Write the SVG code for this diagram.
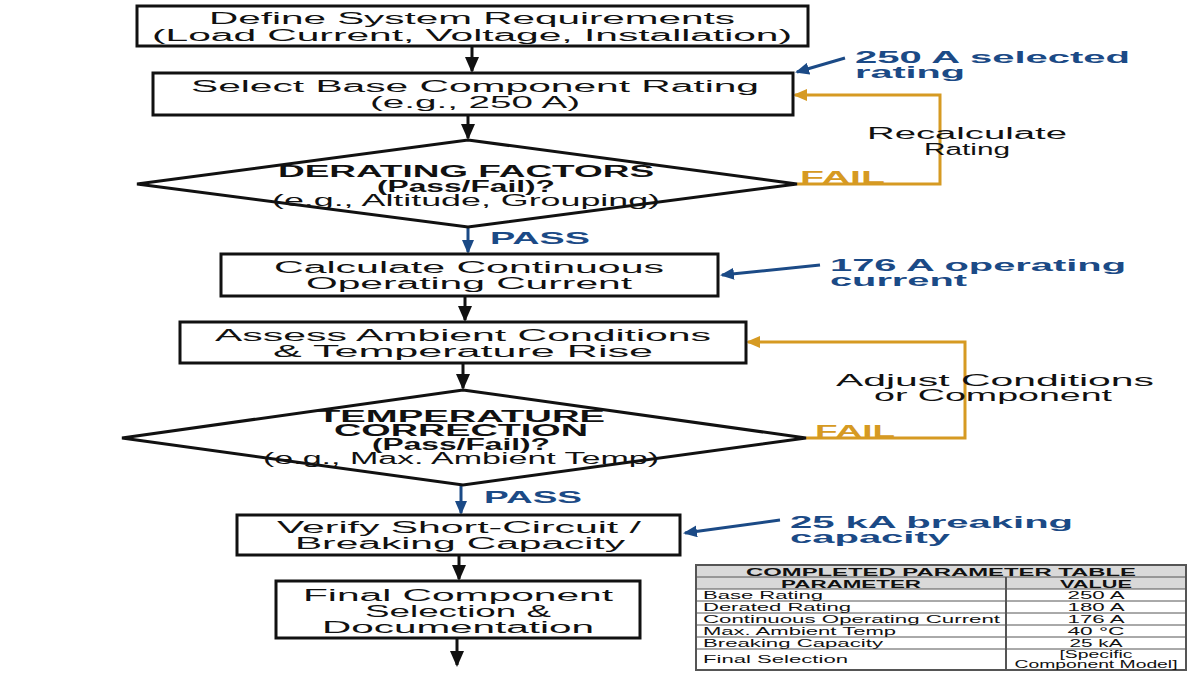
<svg xmlns="http://www.w3.org/2000/svg" width="1200" height="675" viewBox="0 0 1200 675">
<defs>
<style>
text{font-family:"Liberation Sans",Arial,sans-serif;fill:#111}
.n{font-size:16px}
.b{font-weight:bold}
.bl{fill:#1b4a86;font-weight:bold;font-size:17px}
.or{fill:#d69a22;font-weight:bold;font-size:16px}
.box{fill:#fff;stroke:#111;stroke-width:3}
.k{stroke:#111;stroke-width:3;fill:none}
.o{stroke:#d69a22;stroke-width:3;fill:none}
.u{stroke:#1b4a86;stroke-width:3;fill:none}
.t{font-size:11px}
</style>
<marker id="ao" markerWidth="14" markerHeight="12" refX="12" refY="6" orient="auto" markerUnits="userSpaceOnUse"><path d="M0,0L14,6L0,12z" fill="#d69a22"/></marker>
<marker id="au" markerWidth="14" markerHeight="12" refX="12" refY="6" orient="auto" markerUnits="userSpaceOnUse"><path d="M0,0L14,6L0,12z" fill="#1b4a86"/></marker>
<marker id="ab" markerWidth="16" markerHeight="14" refX="14" refY="7" orient="auto" markerUnits="userSpaceOnUse"><path d="M0,0L16,7L0,14z" fill="#111"/></marker>
</defs>
<rect width="1200" height="675" fill="#fff"/>
<g id="connectors">
<line class="k" x1="472" y1="46" x2="472" y2="71" marker-end="url(#ab)"/>
<line class="k" x1="468" y1="115" x2="468" y2="138" marker-end="url(#ab)"/>
<line class="u" x1="468" y1="227" x2="468" y2="252" marker-end="url(#au)"/>
<line class="k" x1="465" y1="296" x2="465" y2="320" marker-end="url(#ab)"/>
<line class="k" x1="463" y1="363" x2="463" y2="388" marker-end="url(#ab)"/>
<line class="u" x1="461" y1="485" x2="461" y2="513" marker-end="url(#au)"/>
<line class="k" x1="459" y1="555" x2="459" y2="579" marker-end="url(#ab)"/>
<line class="k" x1="457" y1="638" x2="457" y2="665" marker-end="url(#ab)"/>
<polyline class="o" points="797,184 940,184 940,95 795,95" marker-end="url(#ao)"/>
<polyline class="o" points="806,438 965,438 965,342 748,342" marker-end="url(#ao)"/>
<line class="u" x1="845" y1="58" x2="797" y2="72" marker-end="url(#au)"/>
<line class="u" x1="820" y1="265" x2="722" y2="275" marker-end="url(#au)"/>
<line class="u" x1="780" y1="520" x2="685" y2="533" marker-end="url(#au)"/>
<text x="490" y="244" class="bl" textLength="100" lengthAdjust="spacingAndGlyphs">PASS</text>
<text x="484" y="503" class="bl" textLength="98" lengthAdjust="spacingAndGlyphs">PASS</text>
<text x="800" y="183" class="or" textLength="85" lengthAdjust="spacingAndGlyphs">FAIL</text>
<text x="815" y="437" class="or" textLength="80" lengthAdjust="spacingAndGlyphs">FAIL</text>
<text x="967" y="139" class="n" text-anchor="middle" textLength="200" lengthAdjust="spacingAndGlyphs">Recalculate</text>
<text x="967" y="155" class="n" text-anchor="middle" textLength="86" lengthAdjust="spacingAndGlyphs">Rating</text>
<text x="995" y="386" class="n" text-anchor="middle" textLength="318" lengthAdjust="spacingAndGlyphs">Adjust Conditions</text>
<text x="993" y="401" class="n" text-anchor="middle" textLength="238" lengthAdjust="spacingAndGlyphs">or Component</text>
<text x="855" y="63" class="bl" textLength="275" lengthAdjust="spacingAndGlyphs">250 A selected</text>
<text x="855" y="78" class="bl" textLength="110" lengthAdjust="spacingAndGlyphs">rating</text>
<text x="830" y="271" class="bl" textLength="296" lengthAdjust="spacingAndGlyphs">176 A operating</text>
<text x="830" y="286" class="bl" textLength="137" lengthAdjust="spacingAndGlyphs">current</text>
<text x="790" y="528" class="bl" textLength="283" lengthAdjust="spacingAndGlyphs">25 kA breaking</text>
<text x="790" y="543" class="bl" textLength="160" lengthAdjust="spacingAndGlyphs">capacity</text>
</g>
<g id="n1"><rect class="box" x="137" y="6" width="671" height="40"/>
<text x="472" y="24" class="n" text-anchor="middle" textLength="526" lengthAdjust="spacingAndGlyphs">Define System Requirements</text>
<text x="472" y="41" class="n" text-anchor="middle" textLength="640" lengthAdjust="spacingAndGlyphs">(Load Current, Voltage, Installation)</text></g>
<g id="n2"><rect class="box" x="153" y="73" width="640" height="42"/>
<text x="475" y="92" class="n" text-anchor="middle" textLength="568" lengthAdjust="spacingAndGlyphs">Select Base Component Rating</text>
<text x="475" y="108" class="n" text-anchor="middle" textLength="210" lengthAdjust="spacingAndGlyphs">(e.g., 250 A)</text></g>
<g id="n3"><polygon class="box" points="468,140 797,184 468,227 137,184"/>
<text x="466" y="177" class="n b" text-anchor="middle" textLength="376" lengthAdjust="spacingAndGlyphs">DERATING FACTORS</text>
<text x="466" y="192" class="n b" text-anchor="middle" textLength="178" lengthAdjust="spacingAndGlyphs">(Pass/Fail)?</text>
<text x="466" y="206" class="n" text-anchor="middle" textLength="388" lengthAdjust="spacingAndGlyphs">(e.g., Altitude, Grouping)</text></g>
<g id="n4"><rect class="box" x="221" y="254" width="497" height="42"/>
<text x="469" y="273" class="n" text-anchor="middle" textLength="390" lengthAdjust="spacingAndGlyphs">Calculate Continuous</text>
<text x="469" y="289" class="n" text-anchor="middle" textLength="326" lengthAdjust="spacingAndGlyphs">Operating Current</text></g>
<g id="n5"><rect class="box" x="180" y="322" width="566" height="41"/>
<text x="463" y="341" class="n" text-anchor="middle" textLength="496" lengthAdjust="spacingAndGlyphs">Assess Ambient Conditions</text>
<text x="463" y="357" class="n" text-anchor="middle" textLength="380" lengthAdjust="spacingAndGlyphs">&amp; Temperature Rise</text></g>
<g id="n6"><polygon class="box" points="463,390 806,438 463,485 122,438"/>
<text x="461" y="422" class="n b" text-anchor="middle" textLength="288" lengthAdjust="spacingAndGlyphs">TEMPERATURE</text>
<text x="461" y="436" class="n b" text-anchor="middle" textLength="254" lengthAdjust="spacingAndGlyphs">CORRECTION</text>
<text x="461" y="450" class="n b" text-anchor="middle" textLength="178" lengthAdjust="spacingAndGlyphs">(Pass/Fail)?</text>
<text x="461" y="464" class="n" text-anchor="middle" textLength="396" lengthAdjust="spacingAndGlyphs">(e.g., Max. Ambient Temp)</text></g>
<g id="n7"><rect class="box" x="237" y="515" width="443" height="40"/>
<text x="459" y="533" class="n" text-anchor="middle" textLength="364" lengthAdjust="spacingAndGlyphs">Verify Short-Circuit /</text>
<text x="460" y="549" class="n" text-anchor="middle" textLength="330" lengthAdjust="spacingAndGlyphs">Breaking Capacity</text></g>
<g id="n8"><rect class="box" x="276" y="581" width="364" height="57"/>
<text x="458" y="601" class="n" text-anchor="middle" textLength="310" lengthAdjust="spacingAndGlyphs">Final Component</text>
<text x="458" y="617" class="n" text-anchor="middle" textLength="186" lengthAdjust="spacingAndGlyphs">Selection &amp;</text>
<text x="458" y="633" class="n" text-anchor="middle" textLength="272" lengthAdjust="spacingAndGlyphs">Documentation</text></g>
<g id="table" stroke="#555" stroke-width="1">
<rect x="696" y="565" width="490" height="105" fill="#fff" stroke-width="2"/>
<rect x="697" y="566" width="488" height="23" fill="#d9d9d9" stroke="none"/>
<line x1="696" y1="577" x2="1186" y2="577"/>
<line x1="696" y1="589" x2="1186" y2="589"/>
<line x1="696" y1="601" x2="1186" y2="601"/>
<line x1="696" y1="613" x2="1186" y2="613"/>
<line x1="696" y1="625" x2="1186" y2="625"/>
<line x1="696" y1="637" x2="1186" y2="637"/>
<line x1="696" y1="649" x2="1186" y2="649"/>
<line x1="1006" y1="577" x2="1006" y2="670" stroke-width="2"/>
<g stroke="none">
<text x="941" y="576" class="t b" text-anchor="middle" textLength="390" lengthAdjust="spacingAndGlyphs">COMPLETED PARAMETER TABLE</text>
<text x="851" y="588" class="t b" text-anchor="middle" textLength="140" lengthAdjust="spacingAndGlyphs">PARAMETER</text>
<text x="1096" y="588" class="t b" text-anchor="middle" textLength="72" lengthAdjust="spacingAndGlyphs">VALUE</text>
<text x="703" y="599" class="t" textLength="120" lengthAdjust="spacingAndGlyphs">Base Rating</text>
<text x="703" y="611" class="t" textLength="148" lengthAdjust="spacingAndGlyphs">Derated Rating</text>
<text x="703" y="623" class="t" textLength="297" lengthAdjust="spacingAndGlyphs">Continuous Operating Current</text>
<text x="703" y="635" class="t" textLength="193" lengthAdjust="spacingAndGlyphs">Max. Ambient Temp</text>
<text x="703" y="647" class="t" textLength="180" lengthAdjust="spacingAndGlyphs">Breaking Capacity</text>
<text x="703" y="663" class="t" textLength="145" lengthAdjust="spacingAndGlyphs">Final Selection</text>
<text x="1096" y="599" class="t" text-anchor="middle" textLength="57" lengthAdjust="spacingAndGlyphs">250 A</text>
<text x="1096" y="611" class="t" text-anchor="middle" textLength="57" lengthAdjust="spacingAndGlyphs">180 A</text>
<text x="1096" y="623" class="t" text-anchor="middle" textLength="57" lengthAdjust="spacingAndGlyphs">176 A</text>
<text x="1096" y="635" class="t" text-anchor="middle" textLength="57" lengthAdjust="spacingAndGlyphs">40 °C</text>
<text x="1096" y="647" class="t" text-anchor="middle" textLength="53" lengthAdjust="spacingAndGlyphs">25 kA</text>
<text x="1096" y="658" class="t" text-anchor="middle" style="font-size:10px" textLength="73" lengthAdjust="spacingAndGlyphs">[Specific</text>
<text x="1096" y="668" class="t" text-anchor="middle" style="font-size:10px" textLength="163" lengthAdjust="spacingAndGlyphs">Component Model]</text>
</g></g>
</svg>
